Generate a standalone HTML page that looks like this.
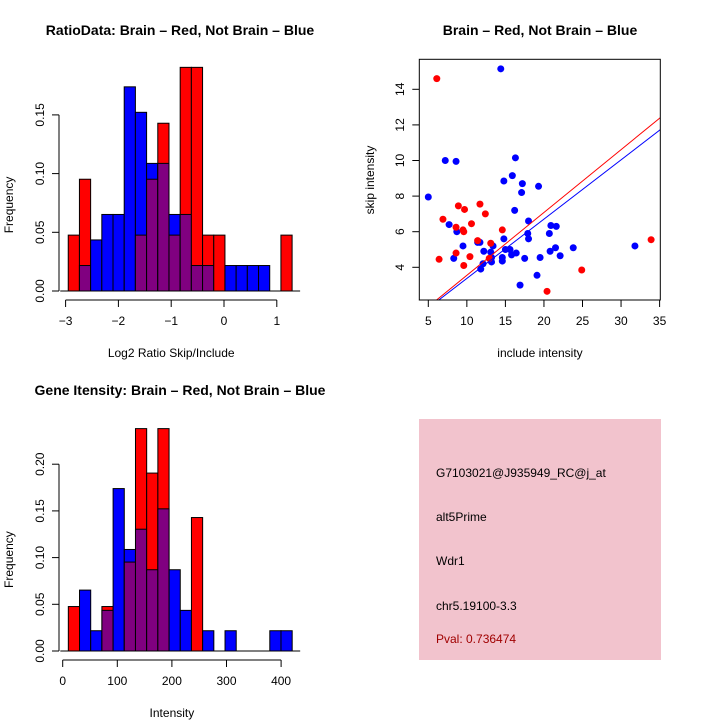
<!DOCTYPE html>
<html><head><meta charset="utf-8"><style>
body{margin:0;background:#fff}
svg{display:block;font-family:"Liberation Sans",sans-serif}
</style></head><body>
<svg id="c" width="720" height="720" xmlns="http://www.w3.org/2000/svg">
<rect width="720" height="720" fill="#fff"/>
<g id="p1"></g>
<g id="p2"></g>
<g id="p3"></g>
<g id="p4">
<rect x="419" y="419" width="242" height="241" fill="#f2c3cd"/>
<text x="436" y="477" font-size="12">G7103021@J935949_RC@j_at</text>
<text x="436" y="521" font-size="12">alt5Prime</text>
<text x="436" y="565" font-size="12">Wdr1</text>
<text x="436" y="610" font-size="12">chr5.19100-3.3</text>
<text x="436" y="643" font-size="12" fill="#a00000">Pval: 0.736474</text>
</g>
</svg>
<script>
// Ratio histogram data
const ratioBlue=[0,0.0217,0.0435,0.0652,0.0652,0.1739,0.1522,0.1087,0.1087,0.0652,0.0652,0.0217,0.0217,0,0.0217,0.0217,0.0217,0.0217,0,0];
const ratioRed=[0.0476,0.0952,0,0,0,0,0.0476,0.0952,0.1429,0.0476,0.1905,0.1905,0.0476,0.0476,0,0,0,0,0,0.0476];
const ratioStart=-2.95, ratioBin=0.212;
const ratioXTicks=[-3,-2,-1,0,1];
const ratioYTicks=["0.00","0.05","0.10","0.15"];
// Gene intensity histogram data
const geneBlue=[0,0.0652,0.0217,0.0435,0.1739,0.1087,0.1304,0.087,0.1522,0.087,0.0435,0,0.0217,0,0.0217,0,0,0,0.0217,0.0217];
const geneRed=[0.0476,0,0,0.0476,0,0.0952,0.2381,0.1905,0.2381,0,0,0.1429,0,0,0,0,0,0,0,0];
const geneStart=10.3, geneBin=20.5;
const geneXTicks=[0,100,200,300,400];
const geneYTicks=["0.00","0.05","0.10","0.15","0.20"];
// Scatter data
const blueX=[14.4,5.0,7.2,8.6,7.7,8.7,8.3,9.5,11.4,11.7,12.2,12.1,11.8,13.1,13.4,13.2,13.2,14.6,14.6,14.8,14.8,15.9,16.3,16.2,15.0,15.6,15.8,16.4,17.2,17.1,17.5,16.9,18.0,17.9,18.0,19.3,19.1,19.5,20.7,20.9,21.6,20.8,21.5,22.1,23.8,31.8];
const blueY=[15.15,7.95,10.0,9.95,6.4,6.0,4.5,5.2,5.4,5.4,4.9,4.2,3.9,4.85,5.2,4.55,4.3,4.55,4.35,5.6,8.85,9.15,10.15,7.2,5.0,5.0,4.7,4.8,8.7,8.2,4.5,3.0,6.6,5.9,5.6,8.55,3.55,4.55,5.9,6.35,6.3,4.9,5.1,4.65,5.1,5.2];
const redX=[6.1,6.4,6.9,8.9,9.7,8.6,9.5,9.6,8.6,9.6,10.4,10.6,11.7,12.4,11.4,13.1,12.9,14.6,20.4,24.9,33.9];
const redY=[14.6,4.45,6.7,7.45,7.25,6.25,6.1,6.0,4.8,4.1,4.6,6.45,7.55,7.0,5.5,5.35,4.5,6.1,2.65,3.85,5.55];
const redFit=[0.02,0.353];
const blueFit=[0.045,0.333];
const scatXTicks=[5,10,15,20,25,30,35];
const scatYTicks=[4,6,8,10,12,14];

const NS="http://www.w3.org/2000/svg";
function mk(parent,tag,attrs,txt){const e=document.createElementNS(NS,tag);for(const k in attrs)e.setAttribute(k,attrs[k]);if(txt!==undefined)e.textContent=txt;parent.appendChild(e);return e;}

function hist(g,blue,red,start,bin,sx,sy,xTicks,yTicks,yStep,axY,xlab,title,titleY,xlabY,prefix){
  for(let i=0;i<blue.length;i++){
    const b=blue[i],r=red[i];
    const x0=sx(start+i*bin),x1=sx(start+(i+1)*bin);
    const hi=Math.max(b,r),lo=Math.min(b,r);
    if(hi>0){
      const r1=mk(g,'rect',{x:x0,y:sy(hi),width:x1-x0,height:sy(0)-sy(hi),fill:b>=r?'#0000ff':'#ff0000',stroke:'#000','stroke-width':1});
      
      
    }
    if(lo>0){
      const r2=mk(g,'rect',{x:x0,y:sy(lo),width:x1-x0,height:sy(0)-sy(lo),fill:'#800080',stroke:'#000','stroke-width':1});
      
      
    }
  }
  const x0=sx(start),x1=sx(start+blue.length*bin);
  mk(g,'line',{x1:x0-8,x2:x1+8,y1:sy(0),y2:sy(0),stroke:'#000','stroke-width':1});
  mk(g,'line',{x1:sx(xTicks[0]),x2:sx(xTicks[xTicks.length-1]),y1:axY,y2:axY,stroke:'#000','stroke-width':1});
  xTicks.forEach(t=>{mk(g,'line',{x1:sx(t),x2:sx(t),y1:axY,y2:axY+7,stroke:'#000'});
    const tl=mk(g,'text',{x:sx(t),y:axY+25,'font-size':12,'text-anchor':'middle'},String(t).replace('-','\u2212'));
    });
  const yv=yTicks.map((t,i)=>i*yStep);
  mk(g,'line',{x1:59,x2:59,y1:sy(0),y2:sy(yv[yv.length-1]),stroke:'#000'});
  yTicks.forEach((t,i)=>{const y=sy(yv[i]);mk(g,'line',{x1:52,x2:59,y1:y,y2:y,stroke:'#000'});
    const tl=mk(g,'text',{x:0,y:0,'font-size':12,'text-anchor':'middle',transform:`translate(44,${y}) rotate(-90)`},t);
    });
  const yt=mk(g,'text',{x:0,y:0,'font-size':12,'text-anchor':'middle',transform:`translate(13,${(sy(0)+sy(yv[yv.length-1]))/2+2}) rotate(-90)`},'Frequency');
  
  const xt=mk(g,'text',{x:(sx(xTicks[0])+sx(xTicks[xTicks.length-1]))/2,y:xlabY,'font-size':12,'text-anchor':'middle'},xlab);
  
  const tt=mk(g,'text',{x:180,y:titleY,'font-size':14,'font-weight':'bold','text-anchor':'middle'},title);
  
}

const p1=document.getElementById('p1');
hist(p1,ratioBlue,ratioRed,ratioStart,ratioBin,v=>224+v*52.8,v=>291-v*1174,ratioXTicks,ratioYTicks,0.05,300,'Log2 Ratio Skip/Include','RatioData: Brain \u2013 Red, Not Brain \u2013 Blue',35,357,'ratio');
const p3=document.getElementById('p3');
hist(p3,geneBlue,geneRed,geneStart,geneBin,v=>62.7+v*0.546,v=>651-v*934,geneXTicks,geneYTicks,0.05,660,'Intensity','Gene Itensity: Brain \u2013 Red, Not Brain \u2013 Blue',395,717,'gene');

const p2=document.getElementById('p2');
const SX=v=>428.3+(v-5)*7.71, SY=v=>267.3-(v-4)*17.8;
const L=419.3,R=660.3,T=59.3,B=300;
const cp=mk(p2,'clipPath',{id:'clip2'});mk(cp,'rect',{x:L,y:T,width:R-L,height:B-T});
blueX.forEach((x,i)=>{const c=mk(p2,'circle',{cx:SX(x),cy:SY(blueY[i]),r:3.5,fill:'#0000ff'});
  });
redX.forEach((x,i)=>{const c=mk(p2,'circle',{cx:SX(x),cy:SY(redY[i]),r:3.5,fill:'#ff0000'});
  });
[[redFit,'#ff0000','brain-fit-line'],[blueFit,'#0000ff','not-brain-fit-line']].forEach(([f,col,nm])=>{
  const ln=mk(p2,'line',{x1:SX(0),y1:SY(f[0]),x2:SX(40),y2:SY(f[0]+f[1]*40),stroke:col,'stroke-width':1,'clip-path':'url(#clip2)'});
  });
mk(p2,'rect',{x:L,y:T,width:R-L,height:B-T,fill:'none',stroke:'#000','stroke-width':1});
scatXTicks.forEach(t=>{mk(p2,'line',{x1:SX(t),x2:SX(t),y1:B,y2:B+7,stroke:'#000'});
  const tl=mk(p2,'text',{x:SX(t),y:B+25,'font-size':12,'text-anchor':'middle'},t);
  });
scatYTicks.forEach(t=>{mk(p2,'line',{x1:L-7,x2:L,y1:SY(t),y2:SY(t),stroke:'#000'});
  const tl=mk(p2,'text',{x:0,y:0,'font-size':12,'text-anchor':'middle',transform:`translate(404,${SY(t)}) rotate(-90)`},t);
  });
const st=mk(p2,'text',{x:540,y:35,'font-size':14,'font-weight':'bold','text-anchor':'middle'},'Brain \u2013 Red, Not Brain \u2013 Blue');

const sxl=mk(p2,'text',{x:540,y:357,'font-size':12,'text-anchor':'middle'},'include intensity');

const syl=mk(p2,'text',{x:0,y:0,'font-size':12,'text-anchor':'middle',transform:'translate(374,180) rotate(-90)'},'skip intensity');

</script>
</body></html>
